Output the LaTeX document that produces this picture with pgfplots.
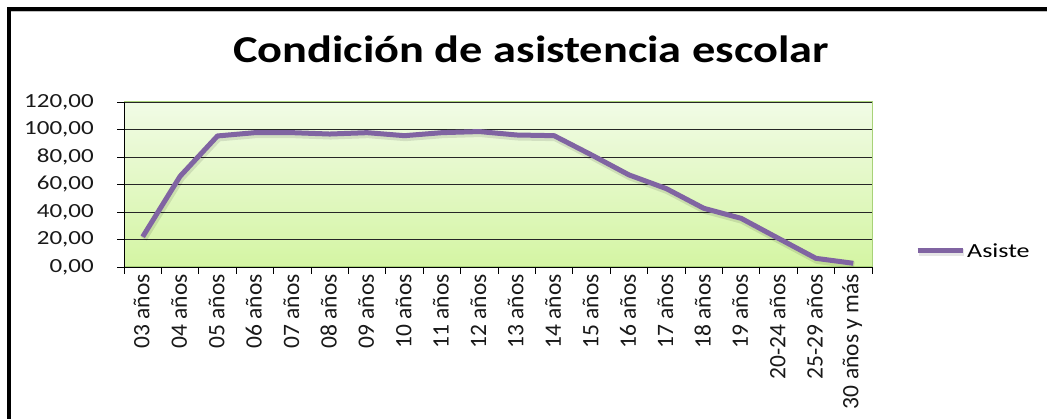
\documentclass[border=0pt]{standalone}
\usepackage{fontspec}
\setmainfont{Carlito}
\usepackage{graphicx}
\usepackage{pgfplots}
\pgfplotsset{compat=1.18}
\definecolor{linepurple}{RGB}{128,100,162}
\definecolor{bgtop}{RGB}{241,251,230}
\definecolor{bgbot}{RGB}{212,245,163}
\definecolor{bordergreen}{RGB}{168,210,120}
\begin{document}
\begin{tikzpicture}[x=1pt,y=1pt]
\path[use as bounding box] (0,0) rectangle (1047,419);
\fill[black] (7,0) rectangle (11,412);
\fill[black] (7,408) rectangle (1047,412);
\fill[black!25] (11,406.5) rectangle (1047,408);
\node[anchor=base,inner sep=0] at (531,356) {\scalebox{1.22}[1]{\fontsize{38}{40}\selectfont\bfseries Condición de asistencia escolar}};
\begin{axis}[
  at={(124pt,152pt)}, anchor=south west,
  scale only axis, width=748pt, height=165pt,
  xmin=-0.5, xmax=19.5, ymin=0, ymax=120,
  ytick={0,20,...,120},
  xtick={0,...,19},
  xticklabels={03 años,04 años,05 años,06 años,07 años,08 años,09 años,10 años,11 años,12 años,13 años,14 años,15 años,16 años,17 años,18 años,19 años,20-24 años,25-29 años,30 años y más},
  minor xtick={-0.5,0.5,...,19.5},
  major x tick style={draw=none},
  tick align=outside,
  major tick length=7pt, minor tick length=7pt,
  tick style={black, line width=0.8pt},
  axis x line*=bottom, axis y line*=left,
  axis line style={black, line width=0.8pt, -},
  axis background/.style={shade, top color=bgtop, bottom color=bgbot, draw=bordergreen, line width=1pt},
  ymajorgrids, grid style={black!85, line width=0.9pt},
  /pgf/number format/.cd, fixed, fixed zerofill, precision=2, use comma, assume math mode=true,
  /pgfplots/.cd,
  yticklabel={\scalebox{1.25}[1]{\fontsize{20}{20}\selectfont\pgfmathprintnumber{\tick}}},
  yticklabel style={anchor=east, inner sep=0pt, xshift=-23pt, text=black!90},
  xticklabel style={rotate=90, anchor=east, inner sep=0pt, yshift=1pt, font=\fontsize{23.5}{24}\selectfont, text=black!90},
  legend style={at={(1.0575,0.097)}, anchor=west, draw=none, fill=none, inner sep=0pt, font=\fontsize{20}{20}\selectfont},
  legend image code/.code={\draw[#1] (0pt,0pt) -- (45pt,0pt);},
  legend cell align=left,
]
\addplot[linepurple, line width=5pt, line join=round, preaction={draw=black, opacity=0.1, line width=7pt, transform canvas={xshift=1pt,yshift=-2pt}}] coordinates {
(0,22) (1,66) (2,95.3) (3,97.7) (4,97.7) (5,96.7) (6,97.7) (7,95.5) (8,97.7) (9,98.5)
(10,96) (11,95.5) (12,81.5) (13,67) (14,57) (15,42.7) (16,35.4) (17,20.8) (18,6.3) (19,2.7)
};
\addlegendentry{\scalebox{1.3}[1]{Asiste}}
\end{axis}
\end{tikzpicture}
\end{document}
